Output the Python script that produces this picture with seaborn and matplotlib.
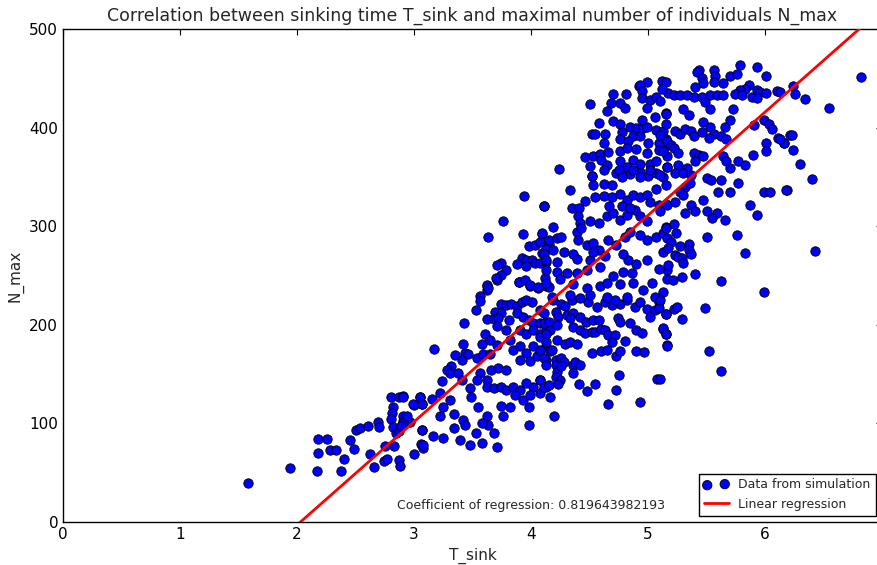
import numpy as np
import matplotlib
matplotlib.use("Agg")
import matplotlib.pyplot as plt
import seaborn as sns

# points, region by region
# lower left tail
t_tail = [1.58, 1.94, 2.17, 2.18, 2.26, 2.18, 2.28, 2.33, 2.38, 2.40, 2.45, 2.49, 2.50, 2.54, 2.61,
          2.62, 2.66, 2.69, 2.70, 2.74, 2.77, 2.75, 2.80, 2.82, 2.81, 2.80, 2.82, 2.83, 2.85, 2.87,
          2.91, 2.87, 2.88, 2.91, 2.91, 2.87, 2.97, 3.00, 3.00, 3.05, 3.07, 3.07, 3.06, 3.08]
n_tail = [40, 55, 52, 84, 84, 70, 73, 73, 52, 64, 83, 74, 93, 95, 97,
          69, 56, 101, 96, 62, 64, 77, 127, 117, 111, 104, 96, 77, 90, 127,
          128, 63, 57, 108, 102, 92, 101, 119, 69, 127, 120, 93, 79, 75]

# 3 < T_sink < 4.2, lower part
t_low = [3.62, 3.62, 3.71, 3.90, 3.99, 4.06, 4.13,
         3.56, 3.56, 3.53,
         3.74, 3.79, 3.83, 3.88,
         3.92, 3.96, 4.01,
         3.69, 3.74, 3.62, 3.68, 3.72,
         3.88, 3.93, 3.98, 4.02, 4.08, 4.13,
         3.43,
         3.71, 3.81, 3.91, 3.96, 4.02, 4.08, 4.13,
         3.61, 3.58, 3.65, 3.71, 3.79, 3.82,
         3.42, 3.44, 3.35, 3.41, 3.46, 3.54, 3.59, 3.65,
         3.17,
         3.85, 3.91, 3.96, 4.02, 4.08, 4.13, 3.91, 3.99, 4.05, 4.13,
         3.32, 3.28, 3.31, 3.38, 3.41, 3.48, 3.49, 3.56, 3.54, 3.62, 3.66, 3.72, 3.79,
         3.24,
         3.62, 3.68, 3.74, 3.79, 3.85, 3.91, 3.96, 4.02, 4.08, 4.13, 3.86, 3.93, 3.99, 4.08,
         3.15, 3.05, 2.99, 3.07, 2.91,
         3.22, 3.31, 3.25, 3.34, 3.22,
         3.55, 3.62, 3.74, 3.82, 3.76, 3.98,
         3.42, 3.34, 3.44, 3.63, 3.58, 3.53, 3.68, 3.58, 3.48, 3.39, 3.25, 3.16, 3.07, 3.71, 3.98,
         2.91, 2.94, 2.89, 3.08]
n_low = [239, 235, 245, 243, 239, 237, 239,
         229, 224, 215,
         221, 220, 221, 219,
         223, 225, 223,
         213, 212, 206, 206, 207,
         212, 208, 205, 202, 202, 203,
         202,
         199, 205, 195, 191, 195, 191, 195,
         191, 181, 185, 180, 195, 185,
         181, 171, 169, 164, 170, 166, 170, 170,
         175,
         174, 178, 171, 178, 173, 179, 164, 163, 168, 164,
         158, 154, 151, 151, 144, 136, 127, 151, 144, 144, 154, 156, 154,
         143,
         137, 136, 137, 134, 137, 134, 141, 137, 144, 137, 129, 124, 129, 131,
         125, 127, 120, 120, 127,
         131, 124, 117, 110, 107,
         117, 108, 118, 117, 107, 117,
         103, 95, 98, 98, 100, 90, 90, 80, 78, 83, 85, 87, 93, 76, 98,
         100, 107, 97, 78]

# 3.6 < T_sink < 4.2, upper part
t_mid = [3.94, 4.11, 3.76, 3.63, 3.93, 4.09, 3.98, 4.03, 4.08, 4.15, 4.09, 4.13,
         3.92, 3.96, 4.01, 4.03, 4.08, 4.13, 3.88, 3.96, 3.74, 3.71, 3.79, 3.74, 3.70,
         3.90, 3.95, 3.99, 4.06, 4.12, 4.15, 3.62, 3.63]
n_mid = [331, 320, 305, 289, 292, 292, 280, 281, 284, 282, 273, 277,
         268, 266, 266, 263, 263, 264, 262, 260, 263, 261, 256, 251, 247,
         243, 245, 240, 238, 247, 238, 240, 237]

# 4.1 < T_sink < 5.2, N_max < 225
t_c1 = [4.19, 4.26, 4.29, 4.35, 4.49, 4.56, 4.63, 4.69, 4.76, 4.89, 4.99, 5.06, 5.09, 5.15, 4.72, 4.82,
        4.08, 4.11, 4.21, 4.23, 4.31, 4.36, 4.42, 4.47, 4.53, 4.58, 4.74, 4.76, 4.85, 4.90, 4.95, 5.02,
        4.11, 4.15, 4.16, 4.22, 4.33, 4.36, 4.42, 4.46, 4.52, 4.55, 4.60, 4.63, 4.66, 4.72, 4.69, 4.80, 5.13, 5.15,
        4.08, 4.13, 4.13, 4.22, 4.29, 4.33, 4.39, 5.16,
        4.52, 4.60, 4.65, 4.73, 4.76, 4.90, 4.97,
        4.08, 4.16, 4.18, 4.11, 4.13, 4.21, 4.26, 4.28, 4.21, 4.22, 4.26, 4.36, 4.38, 4.42, 4.36,
        4.08, 4.11, 4.15, 4.21, 4.25, 4.23, 4.41, 4.55, 4.48, 4.75, 4.73, 4.66, 4.93, 5.08, 4.16, 4.20]
n_c1 = [225, 221, 219, 225, 223, 218, 223, 220, 221, 218, 216, 215, 223, 211, 225, 225,
        215, 212, 213, 208, 210, 212, 208, 203, 205, 205, 207, 203, 202, 195, 192, 208,
        202, 203, 195, 200, 207, 198, 195, 192, 193, 193, 196, 195, 190, 190, 183, 184, 196, 191,
        188, 191, 183, 185, 181, 183, 181, 180,
        171, 173, 174, 168, 173, 173, 172,
        174, 173, 174, 166, 159, 164, 166, 162, 159, 152, 158, 159, 162, 159, 151,
        144, 137, 139, 147, 144, 140, 140, 140, 133, 149, 134, 120, 122, 145, 127, 107]

# 4.1 < T_sink < 5.2, 215 < N_max < 355
t_c2 = [4.52, 4.53, 4.62, 4.69, 4.73, 4.78, 4.85, 4.93, 5.00, 5.07, 5.13, 5.15, 5.07,
        4.33, 4.46, 4.11, 4.35, 4.41, 4.55, 4.62, 4.69, 4.76, 4.82, 4.87, 4.93, 4.99, 5.02, 5.09, 5.15,
        4.40, 4.42, 4.50, 4.58, 4.65, 4.70, 4.76, 4.82, 4.89, 4.93, 4.99, 4.67, 4.78, 4.85,
        4.19, 4.09, 4.15, 4.22, 4.26, 4.39, 4.43, 4.40, 4.48, 4.53, 4.58, 4.66, 4.73, 4.80, 4.85, 4.93,
        4.99, 5.07, 5.15,
        4.11, 4.19, 4.28, 4.13, 4.22, 4.36, 4.39, 4.50, 4.53, 4.63, 4.79, 4.83, 4.90, 4.99, 5.13, 5.16,
        4.13, 4.22, 4.31, 4.39, 4.48, 4.59, 4.70, 4.79, 4.86, 5.03, 5.09, 4.13, 4.25, 4.36, 4.48,
        4.59, 4.65, 4.76, 4.87, 4.96, 5.06, 4.18, 4.33, 4.42, 4.50, 4.65, 4.82, 4.93, 5.09]
n_c2 = [351, 342, 343, 342, 354, 354, 353, 355, 351, 354, 350, 342, 338,
        337, 326, 320, 318, 318, 330, 331, 330, 333, 327, 332, 330, 332, 325, 321, 323,
        310, 303, 305, 303, 310, 313, 306, 311, 316, 310, 305, 320, 320, 318,
        299, 293, 286, 288, 289, 294, 298, 286, 281, 283, 276, 286, 281, 289, 294, 291,
        286, 289, 299,
        272, 276, 274, 266, 264, 272, 267, 266, 274, 270, 272, 266, 262, 266, 274, 256,
        256, 254, 253, 253, 256, 259, 249, 254, 253, 242, 257, 242, 246, 241, 237,
        239, 242, 241, 242, 235, 228, 228, 230, 227, 230, 228, 228, 223, 217]

# 4.2 < T_sink < 5.2, N_max > 350
t_c3 = [5.12, 4.99, 4.92, 4.93, 4.95,
        4.70, 4.81, 4.50, 4.68, 4.76, 4.80, 4.65, 4.95, 5.02, 5.07, 5.10, 5.17, 4.99, 5.15, 5.06,
        4.58, 4.70, 4.76, 4.85, 4.90, 4.96, 4.99, 5.07, 5.13, 4.95, 4.52, 4.55, 4.63, 4.78, 4.87, 4.93,
        4.62, 4.76, 4.83, 5.00, 5.09, 5.15, 5.17, 4.46, 4.53, 4.59, 4.66, 4.76, 4.82, 4.90, 4.99, 5.09, 5.16,
        4.24, 4.50, 4.52, 4.60, 4.65, 4.62, 4.76, 4.82, 4.75, 4.87, 4.93, 5.02, 5.07, 4.87, 5.02,
        5.10, 4.78, 4.93, 5.16]
n_c3 = [447, 446, 442, 443, 437,
        434, 434, 424, 425, 425, 420, 417, 430, 428, 431, 427, 435, 420, 415, 411,
        405, 407, 404, 401, 400, 400, 401, 398, 397, 408, 394, 394, 394, 396, 391, 391,
        384, 388, 386, 384, 384, 388, 382, 370, 371, 373, 375, 376, 379, 378, 374, 377, 371,
        358, 361, 351, 367, 362, 357, 366, 360, 357, 367, 363, 363, 366, 357, 357,
        352, 350, 350, 360]

# T_sink > 5.1, N_max < 295
t_r1 = [5.13, 5.24, 5.16, 5.20, 5.17, 5.27, 5.35, 5.35, 5.37, 5.23, 5.26, 5.29, 5.30, 5.17, 5.50,
        5.83, 5.40, 5.29, 5.16, 5.21, 5.62, 5.99, 5.13, 5.10, 5.22, 5.25, 5.49, 5.15, 5.29, 5.13,
        5.15, 5.16, 5.52, 5.62, 5.10]
n_r1 = [293, 293, 288, 284, 278, 280, 282, 276, 272, 271, 269, 268, 263, 261, 289,
        273, 252, 248, 246, 245, 244, 233, 233, 225, 216, 218, 217, 211, 206, 197,
        191, 179, 173, 153, 145]

# T_sink > 5.1, N_max > 290
t_r2 = [5.79, 5.93, 6.01, 5.44, 5.42, 5.56, 5.57, 5.46, 5.70, 5.76, 5.64, 5.56, 5.47, 5.40, 5.86,
        5.83, 5.79, 5.93, 5.96, 6.01, 6.10, 5.74, 5.80, 5.89, 5.93, 5.15, 5.12, 5.22, 5.27, 5.33,
        5.39, 5.46, 5.53, 5.59, 5.64, 5.49, 5.53, 5.73, 5.15,
        5.30, 5.35, 5.15, 5.23, 5.27, 5.32, 5.37, 5.39, 5.10, 5.16, 5.20, 5.47, 5.53, 5.46, 5.56,
        5.66, 5.70, 5.62, 5.67, 5.52, 5.99, 6.03, 6.06, 5.91, 6.11, 6.16, 6.01, 6.21,
        5.13, 5.22, 5.26, 5.39, 5.44, 5.40, 5.47, 5.64, 5.67, 5.70, 5.77, 5.83, 5.90, 6.01, 5.16,
        5.26, 5.33, 5.23, 5.30, 5.37, 5.50, 5.54, 5.62, 5.77, 5.32, 5.27, 5.36,
        5.16, 5.23, 5.30, 5.37, 5.47, 5.50, 5.59, 5.66, 5.55, 5.60, 5.70, 5.87, 5.93, 5.99, 6.04,
        6.19, 5.10, 5.15, 5.22, 5.32, 5.40, 5.76]
n_r2 = [463, 461, 452, 458, 456, 458, 452, 450, 452, 454, 445, 446, 445, 441, 443,
        439, 438, 438, 436, 435, 437, 434, 433, 431, 430, 446, 439, 433, 433, 433,
        431, 431, 433, 433, 433, 426, 419, 419, 414,
        419, 413, 404, 397, 394, 399, 397, 391, 393, 386, 382, 406, 401, 396, 394,
        401, 408, 391, 388, 389, 408, 404, 399, 403, 389, 384, 384, 392,
        376, 379, 374, 374, 372, 366, 371, 371, 366, 359, 366, 362, 372, 376, 360,
        362, 359, 354, 354, 352, 349, 347, 347, 344, 340, 335, 344,
        321, 325, 332, 321, 327, 315, 313, 306, 308, 335, 335, 321, 311, 335, 335,
        337, 315, 298, 302, 313, 315, 291]

# far right
t_far = [6.82, 6.24, 6.26, 6.34, 6.55, 6.13, 6.23, 6.16, 6.13, 6.24, 6.30, 6.40, 6.18, 6.43]
n_far = [451, 442, 434, 429, 420, 436, 392, 384, 388, 377, 363, 348, 337, 275]

# regression line and coefficient shown on the chart
slope = 104.7
intercept = -212.5
coef_text = "Coefficient of regression: 0.819643982193"

t_sink = np.concatenate([t_tail, t_low, t_mid, t_c1, t_c2, t_c3, t_r1, t_r2, t_far])
n_max = np.concatenate([n_tail, n_low, n_mid, n_c1, n_c2, n_c3, n_r1, n_r2, n_far])

sns.set_style("white")
plt.rcParams["font.family"] = ["DejaVu Sans"]
plt.rcParams["xtick.direction"] = "in"
plt.rcParams["ytick.direction"] = "in"
plt.rcParams["xtick.top"] = True
plt.rcParams["ytick.right"] = True
plt.rcParams["xtick.major.size"] = 4
plt.rcParams["ytick.major.size"] = 4
plt.rcParams["axes.edgecolor"] = "black"
plt.rcParams["axes.linewidth"] = 1.0

fig = plt.figure(figsize=(8.77, 5.65), dpi=100)
ax = fig.add_axes([63 / 877, 43 / 565, (882 - 63) / 877, (522 - 29) / 565])

sns.scatterplot(x=t_sink, y=n_max, color="b", edgecolor="k", linewidth=0.6,
                s=46, label="Data from simulation", ax=ax, zorder=2, legend=False)

line_x = np.array([t_sink.min(), t_sink.max()])
ax.plot(line_x, slope * line_x + intercept, color="r", lw=2,
        label="Linear regression", zorder=3)

ax.text(4.0, 10, coef_text, ha="center", va="bottom", fontsize=9)

ax.set_xlim(0, 7)
ax.set_ylim(0, 500)
ax.set_xticks(range(0, 7))
ax.set_yticks(range(0, 501, 100))
ax.tick_params(labelsize=11, colors="black")
ax.set_xlabel("T_sink", fontsize=11)
ax.set_ylabel("N_max", fontsize=11)
ax.set_title("Correlation between sinking time T_sink and maximal number of individuals N_max",
             fontsize=12.5)

leg = ax.legend(loc="lower right", scatterpoints=2, fontsize=9, fancybox=False,
                edgecolor="black", framealpha=1, borderaxespad=0.5)
leg.get_frame().set_linewidth(1.0)

fig.savefig("out.png", dpi=100)
